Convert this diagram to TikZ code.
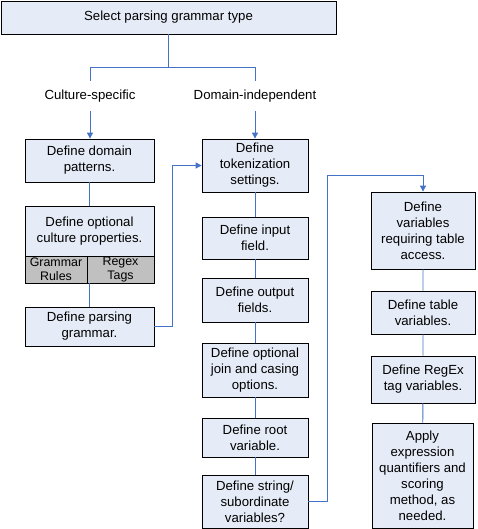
\documentclass[tikz,border=0pt]{standalone}
\usepackage{fontspec}
\setmainfont{Liberation Sans}
\usetikzlibrary{arrows.meta}
\definecolor{boxfill}{HTML}{E6ECF7}
\definecolor{cellfill}{HTML}{C0C0C0}
\definecolor{linkblue}{HTML}{4472C4}
\begin{document}
\begin{tikzpicture}[x=1pt, y=-1pt, font=\fontsize{13.2}{16}\selectfont,
	box/.style={draw, fill=boxfill, line width=0.8pt, align=center, inner sep=1pt},
	cell/.style={draw, fill=cellfill, line width=0.8pt, align=center, inner sep=0pt, minimum height=27pt, font=\fontsize{12.4}{14}\selectfont},
	lbl/.style={inner sep=0pt, minimum height=29pt},
	link/.style={draw=linkblue, line width=0.9pt},
	arr/.style={link, -{Triangle[length=6pt, width=6pt]}}]
			\useasboundingbox (0, 0) rectangle (477, 529);
			\node[box, minimum width=335pt, minimum height=33pt] (top) at (168.5, 17.5) {Select parsing grammar type};
			\node[lbl] (cs) at (90, 96) {Culture-specific};
			\node[lbl] (di) at (255, 96) {Domain-independent};
			% left column
			\node[box, minimum width=129pt, minimum height=43pt] (dom) at (89.5, 160.5) {Define domain\\patterns.};
			\node[box, minimum width=129pt, minimum height=50pt] (cult) at (89.5, 231) {Define optional\\culture properties.};
			\node[cell, minimum width=62pt] (gram) at (56, 269.5) {Grammar\\Rules};
			\node[cell, minimum width=67pt] (rgx) at (120.5, 269.5) {Regex\\Tags};
			\node[box, minimum width=129pt, minimum height=39pt] (pars) at (89.5, 326.5) {Define parsing\\grammar.};
			% middle column
			\node[box, minimum width=106pt, minimum height=53pt] (tok) at (255, 165.5) {Define\\tokenization\\settings.};
			\node[box, minimum width=106pt, minimum height=42pt] (in) at (255, 238) {Define input\\field.};
			\node[box, minimum width=106pt, minimum height=44pt] (out) at (255, 300) {Define output\\fields.};
			\node[box, minimum width=106pt, minimum height=54pt] (join) at (255, 370) {Define optional\\join and casing\\options.};
			\node[box, minimum width=106pt, minimum height=39pt] (root) at (255, 437.5) {Define root\\variable.};
			\node[box, minimum width=106pt, minimum height=53pt] (str) at (255, 501.5) {Define string/\\subordinate\\variables?};
			% right column
			\node[box, minimum width=104pt, minimum height=77pt] (acc) at (423, 230.5) {Define\\variables\\requiring table\\access.};
			\node[box, minimum width=104pt, minimum height=43pt] (tvar) at (423, 312.5) {Define table\\variables.};
			\node[box, minimum width=104pt, minimum height=47pt] (rtag) at (423, 379.5) {Define RegEx\\tag variables.};
			\node[box, minimum width=101pt, minimum height=105pt] (app) at (422.5, 475.5) {Apply\\expression\\quantifiers and\\scoring\\method, as\\needed.};
			\coordinate (split) at (168.5, 67);
			\coordinate (turn) at (327, 175);
			\draw[link] (top) -- (split) -| (cs.north);
			\draw[link] (split) -| (di.north);
			\draw[arr] (cs.south) -- (cs.south |- dom.north);
			\draw[arr] (di) -- (tok);
			\draw[link] (dom) -- (cult);
			\draw[link] (gram.south -| pars.north) -- (pars);
			\draw[arr] (pars.east) -- ++(18, 0) |- (tok.west);
			\draw[link] (tok) -- (in) -- (out) -- (join) -- (root) -- (str);
			\draw[arr] (str.east) -| (turn) -| (acc.north);
			\draw[link] (acc) -- (tvar) -- (rtag) -- (app);
		\end{tikzpicture}
\end{document}
